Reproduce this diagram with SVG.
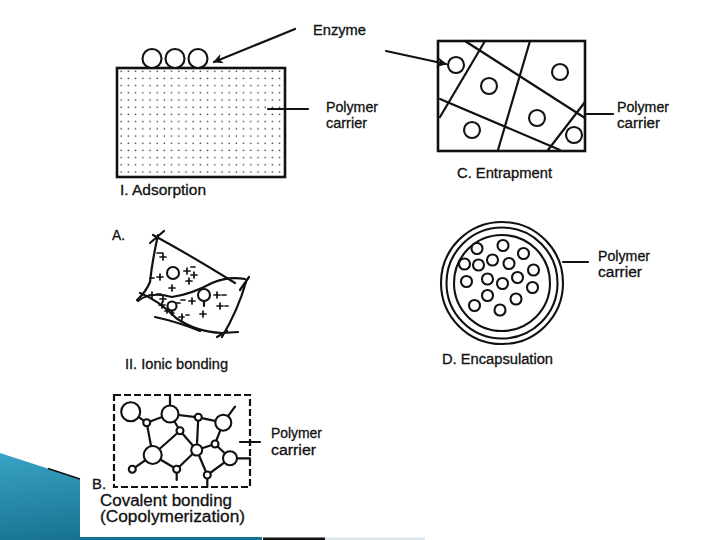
<svg xmlns="http://www.w3.org/2000/svg" width="720" height="540" viewBox="0 0 720 540">
<style>
.ln{fill:none;stroke:#111;stroke-width:2.2;stroke-linecap:round;stroke-linejoin:round}
.th{fill:none;stroke:#111;stroke-width:2.6}
.c{fill:#fff;stroke:#111;stroke-width:2.1}
.t{font-family:"Liberation Sans",Arial,sans-serif;font-size:14px;fill:#111;stroke:#111;stroke-width:0.3}
.tb{font-family:"Liberation Sans",Arial,sans-serif;font-size:16px;fill:#111;stroke:#111;stroke-width:0.3}
.ch{fill:none;stroke:#111;stroke-width:1.7;stroke-linecap:round}
</style>
<defs>
<marker id="ah" viewBox="0 0 10 10" refX="9" refY="5" markerWidth="4.5" markerHeight="4.5" orient="auto" markerUnits="strokeWidth">
<path d="M0,0 L10,5 L0,10 L3,5 z" fill="#111"/>
</marker>
<pattern id="dots" x="120" y="70" width="7.2" height="7.2" patternUnits="userSpaceOnUse">
<circle cx="1.2" cy="1.2" r="0.8" fill="#333"/>
</pattern>
<linearGradient id="teal" x1="0" y1="0" x2="0.4" y2="1">
<stop offset="0" stop-color="#3aa3c4"/>
<stop offset="1" stop-color="#16708f"/>
</linearGradient>
</defs>
<rect width="720" height="540" fill="#fff"/>
<g id="decor">
<polygon points="0,453 80,479 80,537 262,537 262,540 0,540" fill="url(#teal)"/>
<line x1="48" y1="468.5" x2="80" y2="479" stroke="#111" stroke-width="1.5"/>
<rect x="263" y="537.5" width="62" height="2.5" fill="#111"/>
<rect x="325" y="537.5" width="100" height="2.5" fill="#dde6ea"/>
</g>
<g id="adsorption">
<rect x="117" y="68" width="168" height="109" fill="url(#dots)"/>
<rect x="117" y="68" width="168" height="109" class="th"/>
<circle cx="152" cy="58.5" r="9.5" class="c"/>
<circle cx="175" cy="58.5" r="9.5" class="c"/>
<circle cx="198" cy="58.5" r="9.5" class="c"/>
<line x1="268" y1="109" x2="308" y2="109" class="ln"/>
<text x="313" y="35" class="t" textLength="53" lengthAdjust="spacingAndGlyphs">Enzyme</text>
<text x="326" y="112" class="t" textLength="52" lengthAdjust="spacingAndGlyphs">Polymer</text>
<text x="326" y="128" class="t" textLength="41" lengthAdjust="spacingAndGlyphs">carrier</text>
<text x="120" y="195" class="t" textLength="86" lengthAdjust="spacingAndGlyphs">I. Adsorption</text>
</g>
<g id="entrapment">
<rect x="438" y="41" width="147" height="110" class="th"/>
<path d="M465,41 L585,118 M485,41 L440,117 M530,41 L498,150 M440,99 L560,150 M548,150 L585,102" class="ln"/>
<circle cx="456" cy="65" r="8" class="c"/>
<circle cx="489" cy="86" r="8" class="c"/>
<circle cx="560" cy="72" r="8" class="c"/>
<circle cx="537" cy="118" r="8" class="c"/>
<circle cx="472" cy="130" r="8" class="c"/>
<circle cx="574" cy="135" r="8" class="c"/>
<line x1="585" y1="114" x2="613" y2="114" class="ln"/>
<text x="617" y="112" class="t" textLength="52" lengthAdjust="spacingAndGlyphs">Polymer</text>
<text x="617" y="128" class="t" textLength="43" lengthAdjust="spacingAndGlyphs">carrier</text>
<text x="457" y="178" class="t" textLength="95" lengthAdjust="spacingAndGlyphs">C. Entrapment</text>
</g>
<g id="ionic">
<text x="112" y="240" class="t" textLength="13" lengthAdjust="spacingAndGlyphs">A.</text>
<path d="M153,235 Q190,255 235,283" class="ln"/>
<path d="M150,243 L164,231" class="ln"/>
<path d="M158,235 Q152,262 150,282 Q146,292 137,300" class="ln"/>
<path d="M138,301 Q150,291 172,297 Q192,294 212,283 Q228,276 245,279" class="ln"/>
<path d="M240,290 L249,277" class="ln"/>
<path d="M246,282 Q238,310 222,337" class="ln"/>
<path d="M140,293 Q158,300 176,318 Q196,332 222,333 L238,332" class="ln"/>
<path d="M217,337 L227,331" class="ln"/>
<path d="M155,317 Q178,322 200,331" class="ln"/>
<circle cx="173" cy="273" r="6" class="c"/>
<circle cx="204" cy="295" r="6" class="c"/>
<line x1="204" y1="301" x2="204" y2="306" class="ln"/>
<circle cx="172" cy="306" r="4.5" class="c"/>
<line x1="172" y1="310.5" x2="172" y2="315" class="ln"/>
<path class="ch" d="M157,253h6M160,257h6M163,254v6
M150,278h4M157,277h6M160,274v6
M184,271h6M187,268v6M191,267h4M191,275h6M194,272v6M186,281h6M189,278v6
M169,288h6M172,285v6
M149,295h6M152,292v6M157,294h4M160,299h6M163,296v6M159,305h6M162,302v6
M176,303h4M181,300h4M189,301h6M192,298v6
M214,295h6M217,292v6M222,295h4M217,306h6M220,303v6M225,306h3
M200,314h6M203,311v6M171,313h3M179,317h5M182,314v6M186,315h3M165,311h4M167,309v4"/>
<text x="125" y="369" class="t" textLength="103" lengthAdjust="spacingAndGlyphs">II. Ionic bonding</text>
</g>
<g id="encapsulation">
<circle cx="502" cy="283" r="61" class="c"/>
<circle cx="502" cy="283" r="55.5" class="c"/>
<circle cx="502" cy="283" r="48" class="c"/>
<g class="c">
<circle cx="477" cy="248.5" r="5.5"/><circle cx="503" cy="245.5" r="5.5"/><circle cx="523.5" cy="253.5" r="5.5"/>
<circle cx="464.5" cy="264" r="5.5"/><circle cx="478.5" cy="265" r="5.5"/><circle cx="492.5" cy="260" r="5.5"/>
<circle cx="509" cy="263.5" r="5.5"/><circle cx="533.5" cy="270" r="5.5"/><circle cx="466.5" cy="281.5" r="5.5"/>
<circle cx="487.5" cy="279" r="5.5"/><circle cx="502.5" cy="283.5" r="5.5"/><circle cx="517.5" cy="277.5" r="5.5"/>
<circle cx="532.5" cy="287.5" r="5.5"/><circle cx="487.5" cy="295.5" r="5.5"/><circle cx="516" cy="299" r="5.5"/>
<circle cx="474.5" cy="305.5" r="5.5"/><circle cx="500" cy="310" r="5.5"/>
</g>
<line x1="563" y1="262" x2="588" y2="262" class="ln"/>
<text x="598" y="261" class="t" textLength="52" lengthAdjust="spacingAndGlyphs">Polymer</text>
<text x="598" y="277" class="t" textLength="44" lengthAdjust="spacingAndGlyphs">carrier</text>
<text x="442" y="364" class="t" textLength="111" lengthAdjust="spacingAndGlyphs">D. Encapsulation</text>
</g>
<g id="covalent">
<rect x="114" y="395" width="136" height="92" fill="none" stroke="#111" stroke-width="2.2" stroke-dasharray="7 3"/>
<path class="ln" d="M170,405V396 M130.7,411.7L146.7,422.7L170,414L198.3,417.3L223.3,422.7L235,406.7
M170,414L180,430.7 M146.7,422.7L152.7,455L180,430.7L196.7,450 M198.3,417.3L196.7,450L215,444L223.3,422.7
M215,444L230,458.3L207.3,475L196.7,450 M152.7,455L176.7,469.3L196.7,450 M176.7,469.3V480
M207.3,475V487 M152.7,455L132.3,469.3 M230,458.3H250 M240,442H260"/>
<g class="c">
<circle cx="130.7" cy="411.7" r="9.5"/><circle cx="170" cy="414" r="8.5"/><circle cx="146.7" cy="422.7" r="3.5"/>
<circle cx="198.3" cy="417.3" r="3.5"/><circle cx="223.3" cy="422.7" r="8"/><circle cx="180" cy="430.7" r="3.5"/>
<circle cx="152.7" cy="455" r="9"/><circle cx="196.7" cy="450" r="5.5"/><circle cx="215" cy="444" r="3.5"/>
<circle cx="230" cy="458.3" r="7"/><circle cx="176.7" cy="469.3" r="3.5"/><circle cx="207.3" cy="475" r="3.5"/>
<circle cx="132.3" cy="469.3" r="3.5"/>
</g>
<text x="271" y="438" class="t" textLength="51" lengthAdjust="spacingAndGlyphs">Polymer</text>
<text x="271" y="455" class="t" textLength="45" lengthAdjust="spacingAndGlyphs">carrier</text>
<text x="92" y="489" class="t" textLength="14" lengthAdjust="spacingAndGlyphs">B.</text>
<text x="100" y="506" class="tb" textLength="132" lengthAdjust="spacingAndGlyphs">Covalent bonding</text>
<text x="100" y="522" class="tb" textLength="145" lengthAdjust="spacingAndGlyphs">(Copolymerization)</text>
</g>
<g id="connectors">
<line x1="295" y1="29" x2="214" y2="62" class="ln" marker-end="url(#ah)"/>
<line x1="386" y1="51" x2="446" y2="64" class="ln" marker-end="url(#ah)"/>
</g>
</svg>
